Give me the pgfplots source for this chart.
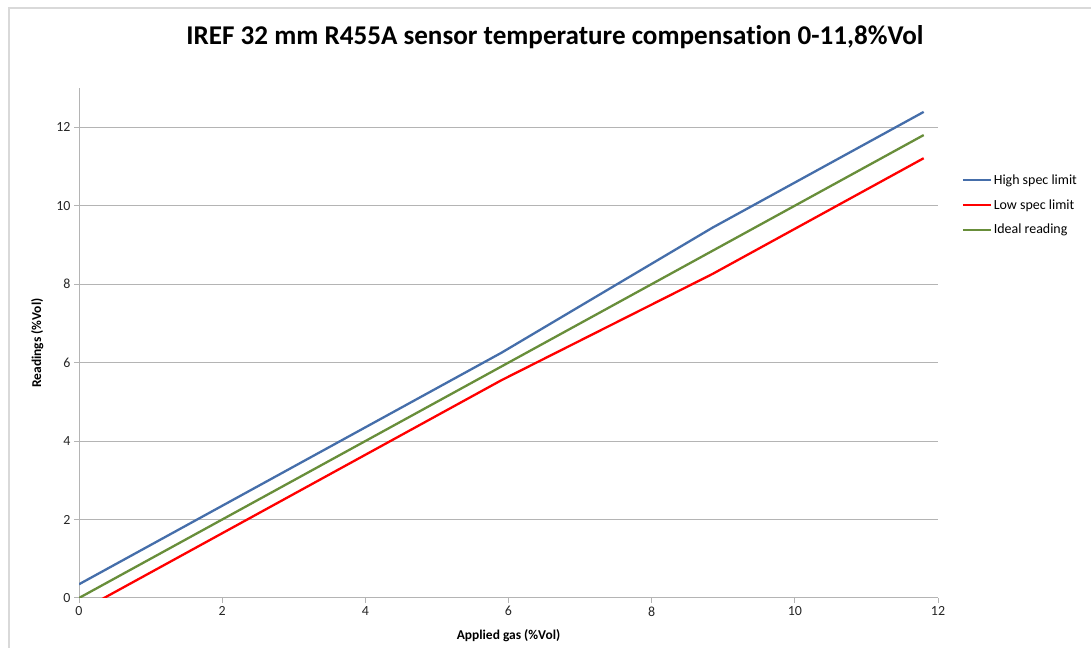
\documentclass[border=0pt]{standalone}
\usepackage{pgfplots}
\pgfplotsset{compat=1.18}
\usepackage{fontspec}
\setmainfont{Carlito}[Ligatures=CommonOff]
\definecolor{hiblue}{RGB}{69,110,170}
\definecolor{lored}{RGB}{255,0,0}
\definecolor{idgreen}{RGB}{104,142,58}
\definecolor{frame}{RGB}{217,217,217}
\definecolor{gridc}{RGB}{180,180,180}
\begin{document}
\begin{tikzpicture}[x=1bp,y=1bp]
\useasboundingbox (0,0) rectangle (1091,648);
\draw[frame,line width=2.5bp] (9,0) -- (9,640) -- (1091,640);
\node[font=\fontsize{27.2}{30}\selectfont\bfseries] at (555,611) {IREF 32 mm R455A sensor temperature compensation 0-11,8\%Vol};
\begin{axis}[
  at={(79bp,50bp)}, anchor=origin,
  scale only axis, width=859bp, height=510bp,
  xmin=0, xmax=12, ymin=0, ymax=13,
  xtick={0,2,...,12}, ytick={0,2,...,12},
  axis x line=bottom, axis y line=left,
  axis line style={gridc, line width=1bp, -},
  tick style={gridc, line width=1bp},
  tick align=outside, major tick length=5bp,
  ymajorgrids, grid style={gridc, line width=1bp},
  ticklabel style={font=\fontsize{14}{16}\selectfont, text=black!85},
  /pgf/number format/assume math mode=true,
  xlabel={Applied gas (\%Vol)}, ylabel={Readings (\%Vol)},
  label style={font=\fontsize{13.5}{15}\selectfont\bfseries},
  xlabel style={yshift=-7bp},
  ylabel style={yshift=6bp},
  legend style={at={(1.024,0.838)}, anchor=north west, draw=none, fill=none,
    font=\fontsize{14}{16}\selectfont, row sep=9.5bp, legend cell align=left},
  legend image code/.code={\draw[#1, line width=2bp] (0bp,0bp) -- (28bp,0bp);},
]
\addplot[hiblue, line width=2.3bp] coordinates {(0,0.35) (5.9,6.25) (8.85,9.44) (11.8,12.39)};
\addlegendentry{High spec limit}
\addplot[lored, line width=2.3bp] coordinates {(0,-0.35) (5.9,5.55) (8.85,8.26) (11.8,11.21)};
\addlegendentry{Low spec limit}
\addplot[idgreen, line width=2.3bp] coordinates {(0,0) (5.9,5.9) (8.85,8.85) (11.8,11.8)};
\addlegendentry{Ideal reading}
\end{axis}
\end{tikzpicture}
\end{document}
